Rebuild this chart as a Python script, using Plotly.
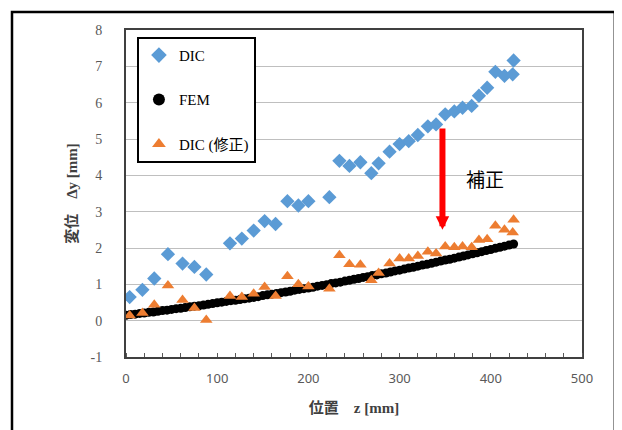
import plotly.graph_objects as go

# DIC (raw)
dic_x = [4, 18, 31, 46, 62, 75, 88, 114, 127, 140, 152, 164, 177, 189, 200, 223,
         234, 245, 257, 269, 277, 289, 300, 310, 320, 331, 340, 350, 360, 369, 379,
         387, 396, 405, 415, 424, 425]
dic_y = [0.65, 0.85, 1.16, 1.83, 1.57, 1.48, 1.27, 2.13, 2.26, 2.48, 2.74, 2.66, 3.29, 3.17, 3.29, 3.40,
         4.40, 4.26, 4.36, 4.06, 4.33, 4.65, 4.86, 4.94, 5.11, 5.35, 5.40, 5.68, 5.76, 5.86, 5.91,
         6.19, 6.41, 6.85, 6.74, 6.78, 7.16]

# DIC (corrected)
dicc_x = dic_x
dicc_y = [0.14, 0.21, 0.44, 0.97, 0.57, 0.35, 0.02, 0.68, 0.65, 0.74, 0.93, 0.68, 1.22, 1.00, 0.94, 0.88,
          1.80, 1.55, 1.54, 1.11, 1.31, 1.57, 1.71, 1.71, 1.78, 1.90, 1.85, 2.04, 2.02, 2.04, 2.02,
          2.22, 2.24, 2.61, 2.50, 2.43, 2.78]

# FEM
fem_x = [0, 5, 10, 15, 20, 25, 30, 35, 40, 45, 50, 55, 60, 65, 70, 75, 80, 85, 90, 95,
         100, 105, 110, 115, 120, 125, 130, 135, 140, 145, 150, 155, 160, 165, 170, 175,
         180, 185, 190, 195, 200, 205, 210, 215, 220, 225, 230, 235, 240, 245, 250, 255,
         260, 265, 270, 275, 280, 285, 290, 295, 300, 305, 310, 315, 320, 325, 330, 335,
         340, 345, 350, 355, 360, 365, 370, 375, 380, 385, 390, 395, 400, 405, 410, 415,
         420, 425]
fem_y = [0.15, 0.17, 0.18, 0.20, 0.21, 0.23, 0.24, 0.26, 0.28, 0.29, 0.31, 0.33, 0.34, 0.36,
         0.38, 0.40, 0.41, 0.43, 0.45, 0.47, 0.49, 0.51, 0.53, 0.55, 0.56, 0.58, 0.60, 0.62,
         0.64, 0.66, 0.69, 0.71, 0.73, 0.75, 0.77, 0.79, 0.81, 0.84, 0.86, 0.88, 0.90, 0.92,
         0.95, 0.97, 0.99, 1.02, 1.04, 1.06, 1.09, 1.11, 1.14, 1.16, 1.19, 1.21, 1.24, 1.26,
         1.29, 1.31, 1.34, 1.37, 1.39, 1.42, 1.45, 1.47, 1.50, 1.53, 1.55, 1.58, 1.61, 1.64,
         1.67, 1.69, 1.72, 1.75, 1.78, 1.81, 1.84, 1.87, 1.90, 1.93, 1.96, 1.99, 2.02, 2.05,
         2.08, 2.11]

x_ticks = [0, 100, 200, 300, 400, 500]
y_ticks = [-1, 0, 1, 2, 3, 4, 5, 6, 7, 8]

SERIF = "Liberation Serif, Noto Sans CJK JP, serif"
SANS = "Noto Sans, DejaVu Sans, sans-serif"

fig = go.Figure()
fig.add_trace(go.Scatter(x=dic_x, y=dic_y, mode="markers", name="DIC", legendgroup="a",
                         marker=dict(symbol="diamond", size=11, color="#5B9BD5")))
fig.add_trace(go.Scatter(x=fem_x, y=fem_y, mode="markers", name="FEM", legendgroup="b",
                         marker=dict(symbol="circle", size=9, color="#000000")))
fig.add_trace(go.Scatter(x=dicc_x, y=dicc_y, mode="markers", name="DIC (修正)", legendgroup="c",
                         marker=dict(symbol="triangle-up", size=11, color="#ED7D31")))

fig.update_layout(
    width=622, height=430,
    margin=dict(l=118, r=48, t=22, b=81),
    paper_bgcolor="white", plot_bgcolor="white",
    showlegend=True,
    legend=dict(x=0.024, y=0.979, xanchor="left", yanchor="top",
                bordercolor="#000000", borderwidth=2, bgcolor="white",
                font=dict(family=SERIF, size=15, color="#000000"),
                tracegroupgap=22, itemsizing="constant", itemwidth=30),
    xaxis=dict(range=[0, 500], tickvals=x_ticks, ticktext=[str(v) for v in x_ticks],
               automargin=False,
               showgrid=False, zeroline=False, showline=True, mirror=True,
               linecolor="#404040", linewidth=2, ticks="", ticklabelstandoff=8,
               tickfont=dict(family=SANS, size=13, color="#595959"),
               minor=dict(dtick=20, ticks="inside", ticklen=4, tickcolor="#595959", showgrid=False),
               title=dict(text="<b>位置　z [mm]</b>", font=dict(family=SERIF, size=15, color="#404040"),
                          standoff=17)),
    yaxis=dict(range=[-1, 8], tickvals=y_ticks, ticktext=[str(v) for v in y_ticks],
               automargin=False,
               showgrid=True, gridcolor="#BFBFBF", gridwidth=1, zeroline=False,
               showline=True, mirror=True, linecolor="#404040", linewidth=2, ticks="",
               ticklabelstandoff=19,
               tickfont=dict(family=SERIF, size=14, color="#595959"),
               title=dict(text="<b>変位　Δy [mm]</b>", font=dict(family=SERIF, size=15, color="#404040"),
                          standoff=9)),
    shapes=[dict(type="rect", xref="paper", yref="paper", x0=-0.25, x1=1.072, y0=-0.35, y1=1.055,
                 line=dict(color="#000000", width=2.5), fillcolor="rgba(0,0,0,0)", layer="below")],
    annotations=[
        dict(x=347, y=2.5, xref="x", yref="y", ax=347, ay=5.33, axref="x", ayref="y",
             showarrow=True, arrowhead=2, arrowsize=0.45, arrowwidth=6, arrowcolor="#FF0000", text=""),
        dict(x=394, y=3.9, xref="x", yref="y", text="補正", showarrow=False,
             font=dict(family="Noto Sans CJK JP", size=19, color="#000000")),
    ],
)

fig.write_html("out.html")
